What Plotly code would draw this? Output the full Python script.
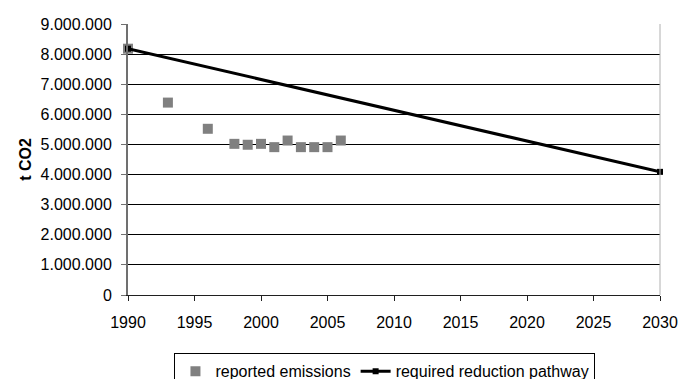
import plotly.graph_objects as go

years_reported = [1990, 1993, 1996, 1998, 1999, 2000, 2001, 2002, 2003, 2004, 2005, 2006]
reported_emissions = [8180000, 6390000, 5520000, 5020000, 4990000, 5020000, 4910000, 5130000, 4910000, 4910000, 4910000, 5130000]
years_pathway = [1990, 2030]
pathway_values = [8180000, 4090000]
y_ticks = [0, 1000000, 2000000, 3000000, 4000000, 5000000, 6000000, 7000000, 8000000, 9000000]
y_tick_labels = ["0", "1.000.000", "2.000.000", "3.000.000", "4.000.000", "5.000.000",
                 "6.000.000", "7.000.000", "8.000.000", "9.000.000"]
x_ticks = [1990, 1995, 2000, 2005, 2010, 2015, 2020, 2025, 2030]

fig = go.Figure()
fig.add_trace(go.Scatter(
    x=years_reported, y=reported_emissions, mode="markers",
    name="reported emissions",
    marker=dict(symbol="square", size=10, color="#808080", line=dict(width=0)),
    cliponaxis=False,
))
fig.add_trace(go.Scatter(
    x=years_pathway, y=pathway_values, mode="lines+markers",
    name="required reduction pathway",
    line=dict(color="black", width=3),
    marker=dict(symbol="square", size=6, color="black"),
    cliponaxis=False,
))

font = "Liberation Sans, Arial, sans-serif"
fig.update_layout(
    width=680, height=379,
    margin=dict(l=128, r=20, t=24, b=84, autoexpand=False),
    paper_bgcolor="white", plot_bgcolor="white",
    font=dict(family=font, size=16, color="black"),
    showlegend=True,
    legend=dict(
        orientation="h", x=0.483, xanchor="center", y=-0.215, yanchor="top",
        bordercolor="black", borderwidth=1, bgcolor="white",
        font=dict(size=16), tracegroupgap=0,
    ),
    xaxis=dict(
        range=[1990, 2030], tickvals=x_ticks, showgrid=False,
        showline=True, linecolor="#202020", linewidth=1,
        ticks="outside", ticklen=5, tickcolor="#202020", zeroline=False,
        tickfont=dict(size=16), automargin=False, ticklabelstandoff=8,
    ),
    yaxis=dict(
        range=[0, 9000000], tickvals=y_ticks, ticktext=y_tick_labels,
        showgrid=True, gridcolor="black", gridwidth=1,
        showline=True, linecolor="#707070", linewidth=2,
        ticks="outside", ticklen=5, tickcolor="#707070", zeroline=False,
        tickfont=dict(size=16), automargin=False, ticklabelstandoff=6,
        title=dict(text="<b>t CO2</b>", font=dict(size=16), standoff=5),
    ),
    shapes=[dict(type="line", xref="paper", yref="paper", x0=1, x1=1, y0=0, y1=1,
                 line=dict(color="#b0b0b0", width=1))],
)

fig.write_html("out.html", config={"displayModeBar": False},
               post_script="document.body.style.margin='0';")
